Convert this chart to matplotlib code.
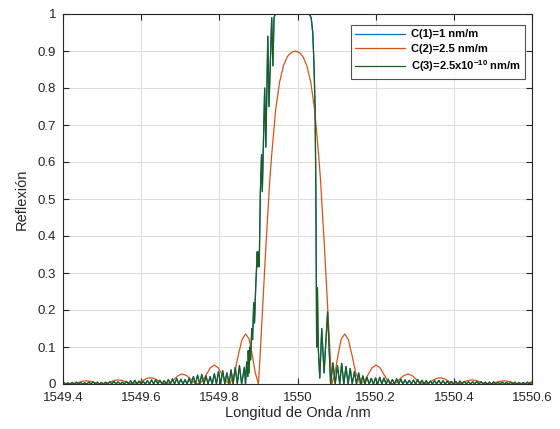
import matplotlib
matplotlib.use('Agg')
import matplotlib.pyplot as plt
import numpy as np

plt.rcParams['font.family'] = ['Liberation Sans', 'DejaVu Sans']
plt.rcParams['mathtext.fontset'] = 'custom'
plt.rcParams['mathtext.bf'] = 'Liberation Sans:bold'
plt.rcParams['mathtext.rm'] = 'Liberation Sans:bold'

# C(2): reflection, one side of the (symmetric) spectrum
c2_center = 1549.994
c2_offset = [0, 0.01, 0.02, 0.03, 0.04, 0.05, 0.06, 0.065, 0.07, 0.075, 0.08, 0.085, 0.09, 0.094,
             0.102, 0.110, 0.118, 0.127, 0.136, 0.145, 0.155, 0.167,
             0.177, 0.187, 0.197, 0.207, 0.217, 0.227, 0.237, 0.248,
             0.258, 0.268, 0.278, 0.289, 0.299, 0.309, 0.319, 0.330,
             0.340, 0.350, 0.360, 0.371, 0.381, 0.391, 0.401, 0.412,
             0.422, 0.432, 0.442, 0.453, 0.463, 0.473, 0.483, 0.494,
             0.504, 0.514, 0.524, 0.535, 0.545, 0.555, 0.565, 0.577,
             0.587, 0.597, 0.607, 0.618]
c2_refl = [0.900, 0.896, 0.885, 0.860, 0.815, 0.740, 0.620, 0.550, 0.460, 0.370, 0.270, 0.170, 0.070, 0.0,
           0.030, 0.080, 0.122, 0.135, 0.120, 0.080, 0.030, 0.0,
           0.008, 0.026, 0.044, 0.051, 0.044, 0.026, 0.008, 0.0,
           0.004, 0.0135, 0.023, 0.027, 0.023, 0.0135, 0.004, 0.0,
           0.0025, 0.0085, 0.0145, 0.017, 0.0145, 0.0085, 0.0025, 0.0,
           0.0016, 0.0055, 0.0094, 0.011, 0.0094, 0.0055, 0.0016, 0.0,
           0.0012, 0.0042, 0.0072, 0.0085, 0.0072, 0.0042, 0.0012, 0.0,
           0.001, 0.0035, 0.006, 0.007]

# C(3): ripple peaks of the left tail (start, spacing between ripples)
c3_left_start = 1549.402
c3_ripple_step = 0.0107
c3_left_peaks = [0.004, 0.003, 0.004, 0.005, 0.004, 0.003, 0.005, 0.006, 0.005, 0.004,
                 0.005, 0.006, 0.007, 0.006, 0.005, 0.007, 0.009, 0.010, 0.008, 0.007,
                 0.009, 0.011, 0.012, 0.010, 0.009, 0.012, 0.014, 0.015, 0.013, 0.012,
                 0.016, 0.020, 0.024, 0.026, 0.022, 0.020, 0.028, 0.034, 0.036, 0.030,
                 0.038, 0.045, 0.050]

# C(3): band region
c3_mid_wl = [1549.857, 1549.864, 1549.867, 1549.870, 1549.873, 1549.874, 1549.876, 1549.878,
             1549.880, 1549.883, 1549.885, 1549.888, 1549.890, 1549.893, 1549.897, 1549.8985,
             1549.900, 1549.902, 1549.905, 1549.908, 1549.910, 1549.916, 1549.919, 1549.924,
             1549.927, 1549.934, 1549.937, 1549.940, 1549.943, 1550.030, 1550.035, 1550.039,
             1550.042, 1550.045, 1550.047, 1550.048, 1550.049, 1550.051, 1550.053, 1550.057,
             1550.062, 1550.068, 1550.077, 1550.0847, 1550.0907, 1550.0965, 1550.1022, 1550.108,
             1550.113, 1550.1185, 1550.124, 1550.1295, 1550.135, 1550.140, 1550.1457, 1550.151,
             1550.1565, 1550.162]
c3_mid_refl = [0.0, 0.045, 0.0, 0.06, 0.02, 0.09, 0.03, 0.10,
               0.065, 0.15, 0.12, 0.22, 0.165, 0.26, 0.357, 0.317,
               0.357, 0.317, 0.52, 0.62, 0.52, 0.80, 0.64, 0.94,
               0.75, 0.99, 0.86, 0.99, 1.0, 1.0, 0.99, 0.95,
               0.87, 0.75, 0.52, 0.30, 0.10, 0.26, 0.10, 0.016,
               0.15, 0.03, 0.195, 0.0, 0.057, 0.0, 0.05, 0.0,
               0.056, 0.0, 0.047, 0.0, 0.042, 0.0, 0.033, 0.0,
               0.03, 0.0]

# C(3): ripple peaks of the right tail
c3_right_start = 1550.1672
c3_right_step = 0.0108
c3_right_peaks = [0.022, 0.018, 0.015, 0.016, 0.018, 0.016, 0.013, 0.012, 0.014, 0.013,
                  0.011, 0.010, 0.011, 0.012, 0.010, 0.009, 0.008, 0.009, 0.010, 0.009,
                  0.008, 0.007, 0.007, 0.008, 0.007, 0.006, 0.006, 0.007, 0.006, 0.005,
                  0.005, 0.006, 0.005, 0.005, 0.004, 0.005, 0.005, 0.004, 0.004, 0.005, 0.004]

xticks = [1549.4, 1549.6, 1549.8, 1550.0, 1550.2, 1550.4, 1550.6]
xtick_labels = ['1549.4', '1549.6', '1549.8', '1550', '1550.2', '1550.4', '1550.6']
yticks = [0, 0.1, 0.2, 0.3, 0.4, 0.5, 0.6, 0.7, 0.8, 0.9, 1.0]
ytick_labels = ['0', '0.1', '0.2', '0.3', '0.4', '0.5', '0.6', '0.7', '0.8', '0.9', '1']
labels = ['C(1)=1 nm/m', 'C(2)=2.5 nm/m', r'C(3)=2.5x10$^{\mathbf{-10}}$ nm/m']


def ripple_tail(start, step, peaks):
    # each ripple goes down to zero between peaks
    x = start + step * np.arange(len(peaks))
    xs = np.column_stack([x - step / 2, x]).ravel()
    ys = np.column_stack([np.zeros(len(peaks)), peaks]).ravel()
    return xs, ys


off = np.array(c2_offset)
wl2 = np.concatenate([c2_center - off[::-1], c2_center + off[1:]])
r2 = np.concatenate([np.array(c2_refl)[::-1], np.array(c2_refl)[1:]])

xl, yl = ripple_tail(c3_left_start, c3_ripple_step, c3_left_peaks)
xr, yr = ripple_tail(c3_right_start, c3_right_step, c3_right_peaks)
wl3 = np.concatenate([xl, c3_mid_wl, xr])
r3 = np.concatenate([yl, c3_mid_refl, yr])

fig = plt.figure(figsize=(5.6, 4.29), dpi=100)
ax = fig.add_axes([63 / 560, 45 / 429, 469 / 560, 370 / 429])

ax.plot(wl3, r3, color='#0072BD', lw=0.9, label=labels[0])
ax.plot(wl2, r2, color='#D95319', lw=0.9, label=labels[1])
ax.plot(wl3, r3, color='#1B5E20', lw=0.9, label=labels[2])

ax.set_xlim(1549.4, 1550.6)
ax.set_ylim(0, 1)
ax.set_xticks(xticks)
ax.set_xticklabels(xtick_labels)
ax.set_yticks(yticks)
ax.set_yticklabels(ytick_labels)
ax.grid(True, color='#dedede', lw=0.8)
ax.set_axisbelow(True)
ax.tick_params(direction='in', length=4, top=True, right=True, labelsize=9.5,
               colors='#262626', width=0.8)
ax.tick_params(axis='x', pad=6)
ax.tick_params(axis='y', pad=5)
for s in ax.spines.values():
    s.set_color('#262626')
    s.set_linewidth(0.8)

ax.set_xlabel('Longitud de Onda /nm', fontsize=10.5, color='#262626', labelpad=1)
ax.set_ylabel('Reflexión', fontsize=10.5, color='#262626', labelpad=6)

leg = ax.legend(loc='upper right', bbox_to_anchor=(1 - 7 / 469, 1 - 11 / 370), borderaxespad=0,
                fancybox=False, edgecolor='#262626', prop={'weight': 'bold', 'size': 8},
                handlelength=4.5, labelspacing=0.4, borderpad=0.4, handletextpad=0.5)
leg.get_frame().set_linewidth(0.8)

fig.savefig('out.png', dpi=100, facecolor='white')
